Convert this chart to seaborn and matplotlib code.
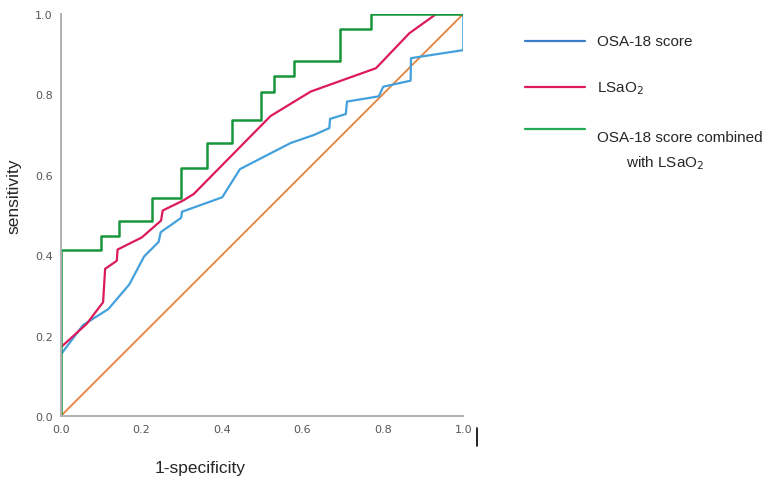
import pandas as pd
import numpy as np
import matplotlib.pyplot as plt
import seaborn as sns
from matplotlib.lines import Line2D

# ROC curves
osa_x = [0, 0.055, 0.118, 0.170, 0.207, 0.243, 0.248, 0.299, 0.301, 0.401, 0.445,
         0.571, 0.629, 0.667, 0.669, 0.708, 0.711, 0.790, 0.801, 0.869, 0.870, 1.0, 1.0]
osa_y = [0.153, 0.226, 0.266, 0.327, 0.397, 0.433, 0.457, 0.493, 0.508, 0.544, 0.614,
         0.679, 0.699, 0.716, 0.739, 0.751, 0.782, 0.795, 0.819, 0.834, 0.890, 0.910, 1.0]

lsao2_x = [0, 0.064, 0.105, 0.110, 0.139, 0.141, 0.201, 0.249, 0.253, 0.304, 0.330,
           0.521, 0.621, 0.783, 0.866, 0.933, 1.0]
lsao2_y = [0.171, 0.229, 0.283, 0.366, 0.386, 0.414, 0.444, 0.486, 0.511, 0.536, 0.552,
           0.746, 0.807, 0.865, 0.952, 1.0, 1.0]

comb_x = [0, 0, 0.100, 0.145, 0.227, 0.299, 0.364, 0.426, 0.498, 0.530, 0.580, 0.693, 0.771, 1.0]
comb_y = [0, 0.414, 0.448, 0.486, 0.542, 0.617, 0.679, 0.736, 0.806, 0.846, 0.883, 0.963, 1.0, 1.0]

ref_x = [0, 1]
ref_y = [0, 1]

ticks = [0.0, 0.2, 0.4, 0.6, 0.8, 1.0]

sns.set_style("white")
plt.rcParams['font.family'] = ['Liberation Sans', 'DejaVu Sans']

fig = plt.figure(figsize=(7.8, 4.81), dpi=100)
ax = fig.add_axes([0.078, 0.133, 0.516, 0.836])

sns.lineplot(x=ref_x, y=ref_y, ax=ax, color='#e8823a', linewidth=1.3,
             estimator=None, sort=False)
sns.lineplot(x=osa_x, y=osa_y, ax=ax, color='#43a0dc', linewidth=1.6,
             estimator=None, sort=False)
sns.lineplot(x=lsao2_x, y=lsao2_y, ax=ax, color='#dc1a5a', linewidth=1.6,
             estimator=None, sort=False)
sns.lineplot(x=comb_x, y=comb_y, ax=ax, color='#17963c', linewidth=1.8,
             estimator=None, sort=False, drawstyle='steps-post')

ax.set_xlim(0, 1)
ax.set_ylim(0, 1)
ax.set_xticks(ticks)
ax.set_yticks(ticks)
ax.set_xticklabels([f"{t:.1f}" for t in ticks], family='DejaVu Sans')
ax.set_yticklabels([f"{t:.1f}" for t in ticks], family='DejaVu Sans')
ax.tick_params(axis='both', length=0, labelsize=8, labelcolor='#555555', pad=6)
for s in ['top', 'right']:
    ax.spines[s].set_visible(False)
for s in ['left', 'bottom']:
    ax.spines[s].set_color('#b0b0b0')
    ax.spines[s].set_linewidth(1.4)

ax.set_ylabel("sensitivity", fontsize=12.5)
ax.set_xlabel("1-specificity", fontsize=12.5)
ax.xaxis.set_label_coords(0.346, -0.11)
ax.yaxis.set_label_coords(-0.097, 0.55)

# legend drawn by hand to match the layout
leg = [('#3d7cc9', "OSA-18 score", 0.912, 0.912),
       ('#dc1a5a', "LSaO$_2$", 0.817, 0.815),
       ('#22aa55', "OSA-18 score combined", 0.730, 0.713)]
for col, lab, ly, ty in leg:
    fig.add_artist(Line2D([0.673, 0.750], [ly, ly], color=col, linewidth=1.6))
    fig.text(0.766, ty, lab, fontsize=11, va='center')
fig.text(0.802, 0.661, "with LSaO$_2$", fontsize=11, va='center')

fig.add_artist(Line2D([0.611, 0.611], [0.07, 0.108], color='black', linewidth=1.2))

plt.savefig('out.png', dpi=100)
